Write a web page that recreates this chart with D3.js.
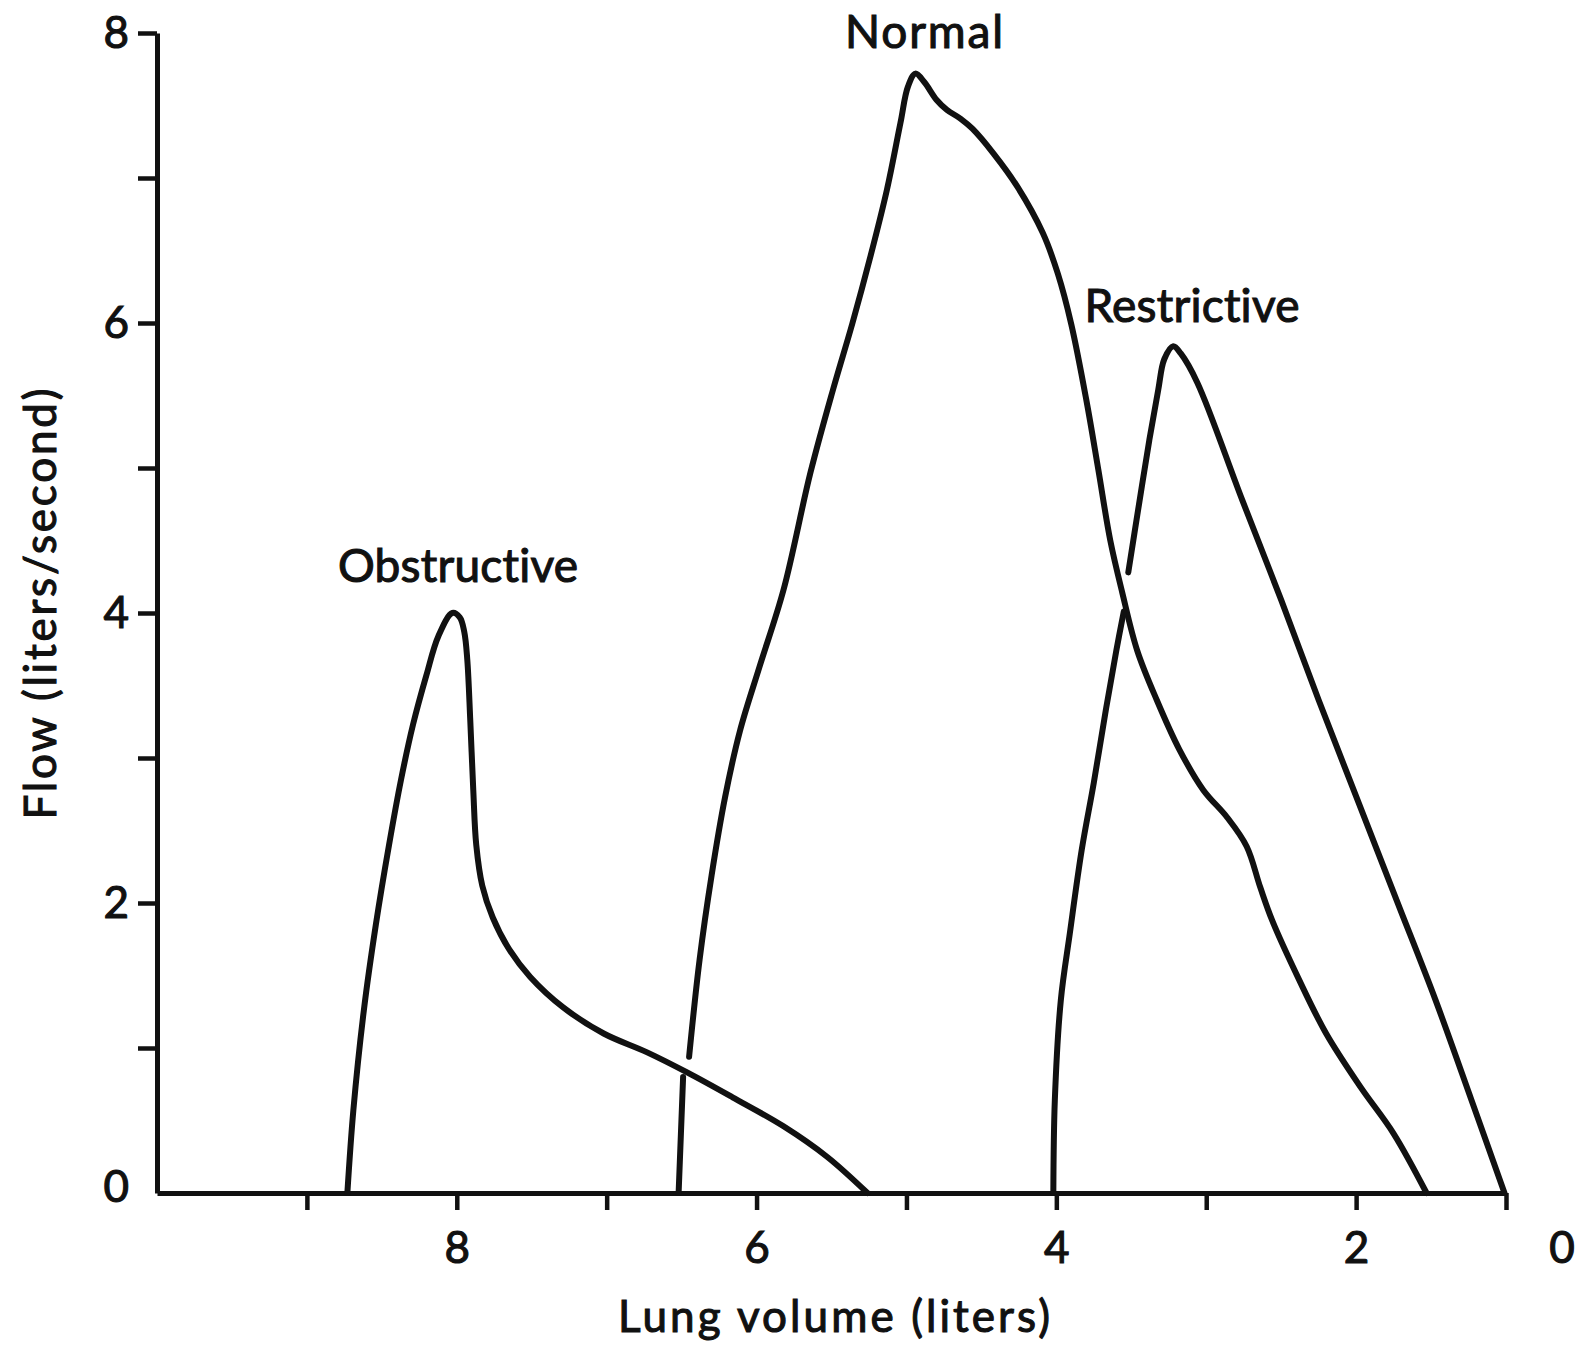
<!DOCTYPE html>
<html>
<head>
<meta charset="utf-8">
<script src="https://cdn.jsdelivr.net/npm/d3@7"></script>
<style>
  html, body { margin: 0; padding: 0; background: #ffffff; }
  svg { display: block; }
  text {
    font-family: Lato, "Open Sans", sans-serif;
    fill: #111;
    stroke: #111;
    stroke-width: 1.1px;
    font-variant-ligatures: none;
    font-feature-settings: "liga" 0, "clig" 0;
  }
</style>
</head>
<body>
<svg id="chart" width="1583" height="1350"></svg>
<script>
// Flow-volume loops (expiratory limb): [lung volume in liters, flow in liters/second].
// A null entry marks where the line is broken as it passes behind another curve.
const obstructive = [
  [8.73, 0], [8.69, 0.57], [8.62, 1.26], [8.54, 1.85], [8.452, 2.40], [8.372, 2.85],
  [8.292, 3.23], [8.203, 3.57], [8.123, 3.84], [8.03, 4.00], [7.98, 3.97], [7.95, 3.87],
  [7.93, 3.68], [7.91, 3.26], [7.89, 2.78], [7.87, 2.40], [7.83, 2.12], [7.76, 1.90],
  [7.65, 1.68], [7.51, 1.49], [7.29, 1.28], [7.02, 1.10], [6.73, 0.97], [6.46, 0.83],
  [6.16, 0.66], [5.82, 0.46], [5.53, 0.25], [5.26, 0]
];

const normal = [
  [6.52, 0], [6.49, 0.80],
  null,
  [6.45, 0.94], [6.38, 1.61], [6.30, 2.19], [6.21, 2.73], [6.11, 3.19], [5.98, 3.63],
  [5.82, 4.16], [5.64, 4.97], [5.49, 5.54], [5.36, 6.00], [5.24, 6.46],
  [5.13, 6.92], [5.04, 7.38], [4.99, 7.63], [4.94, 7.72], [4.88, 7.66], [4.80, 7.54],
  [4.73, 7.47], [4.64, 7.41], [4.56, 7.34], [4.42, 7.17], [4.26, 6.94], [4.09, 6.62],
  [3.99, 6.34], [3.90, 5.99], [3.80, 5.47], [3.72, 4.99], [3.64, 4.50], [3.56, 4.14],
  [3.46, 3.74], [3.33, 3.40], [3.18, 3.06], [3.02, 2.78], [2.86, 2.59], [2.73, 2.39],
  [2.64, 2.11], [2.56, 1.88], [2.38, 1.47], [2.20, 1.10], [1.97, 0.73], [1.75, 0.41],
  [1.53, 0]
];

const restrictive = [
  [4.02, 0], [4.01, 0.64], [3.97, 1.33], [3.91, 1.79], [3.83, 2.37], [3.75, 2.83],
  [3.67, 3.33], [3.60, 3.74], [3.55, 4.01],
  null,
  [3.52, 4.28], [3.45, 4.74], [3.38, 5.19], [3.32, 5.54], [3.28, 5.75], [3.22, 5.84],
  [3.17, 5.79], [3.06, 5.59], [2.76, 4.78], [2.50, 4.09], [2.25, 3.40], [1.99, 2.71],
  [1.73, 2.02], [1.47, 1.33], [1.23, 0.64], [1.01, 0]
];

const curveNames = ["Obstructive", "Normal", "Restrictive"];
const volumeTicks = [9, 8, 7, 6, 5, 4, 3, 2, 1];
const volumeTickLabels = ["", "8", "", "6", "", "4", "", "2", ""];
const volumeEndLabel = "0";
const flowTicks = [1, 2, 3, 4, 5, 6, 7, 8];
const flowTickLabels = ["", "2", "", "4", "", "6", "", "8"];
const xTitle = "Lung volume (liters)";
const yTitle = "Flow (liters/second)";

const svg = d3.select("#chart");
const ink = "#111";
const font = "Lato, sans-serif";

const x = d3.scaleLinear().domain([10, 1]).range([157, 1506]);
const y = d3.scaleLinear().domain([0, 8]).range([1193, 33]);

// X axis
const xAxis = svg.append("g")
  .attr("transform", `translate(0,${y(0)})`)
  .call(d3.axisBottom(x)
    .tickValues(volumeTicks)
    .tickFormat((d, i) => volumeTickLabels[i])
    .tickSize(17)
    .tickSizeOuter(0)
    .tickPadding(22));
xAxis.select(".domain").attr("stroke", ink).attr("stroke-width", 5);
xAxis.selectAll(".tick line").attr("stroke", ink).attr("stroke-width", 4.5);
xAxis.selectAll(".tick text")
  .attr("font-size", 44).attr("font-family", font).attr("fill", ink);
xAxis.append("text")
  .attr("x", x(1) + 56)
  .attr("y", 39)
  .attr("dy", "0.71em")
  .attr("text-anchor", "middle")
  .attr("font-size", 44).attr("font-family", font).attr("fill", ink)
  .text(volumeEndLabel);

// Y axis
const yAxis = svg.append("g")
  .attr("transform", `translate(${x(10)},0)`)
  .call(d3.axisLeft(y)
    .tickValues(flowTicks)
    .tickFormat((d, i) => flowTickLabels[i])
    .tickSize(19)
    .tickSizeOuter(0)
    .tickPadding(9));
yAxis.select(".domain").attr("stroke", ink).attr("stroke-width", 5);
yAxis.selectAll(".tick line").attr("stroke", ink).attr("stroke-width", 4.5);
yAxis.selectAll(".tick text")
  .attr("font-size", 44).attr("font-family", font).attr("fill", ink);
yAxis.append("text")
  .attr("x", -28)
  .attr("y", y(0))
  .attr("dy", "0.2em")
  .attr("text-anchor", "end")
  .attr("font-size", 44).attr("font-family", font).attr("fill", ink)
  .text("0");

// Axis titles
svg.append("text")
  .attr("x", 834).attr("y", 1332)
  .attr("text-anchor", "middle")
  .attr("font-size", 44)
  .attr("textLength", 432).attr("lengthAdjust", "spacing")
  .text(xTitle);

svg.append("text")
  .attr("transform", "translate(56,604) rotate(-90)")
  .attr("text-anchor", "middle")
  .attr("font-size", 44)
  .attr("textLength", 431).attr("lengthAdjust", "spacing")
  .text(yTitle);

// Curves
const line = d3.line()
  .defined(d => d !== null)
  .x(d => x(d[0]))
  .y(d => y(d[1]))
  .curve(d3.curveCatmullRom.alpha(0.5));

const series = [obstructive, normal, restrictive];
svg.append("g")
  .selectAll("path")
  .data(series)
  .join("path")
  .attr("d", line)
  .attr("fill", "none")
  .attr("stroke", ink)
  .attr("stroke-width", 6)
  .attr("stroke-linejoin", "round")
  .attr("stroke-linecap", "round");

// Curve names
const labelLayout = {
  Obstructive: { cx: 458, baseline: 582, width: 240 },
  Normal: { cx: 924, baseline: 48, width: 158 },
  Restrictive: { cx: 1192, baseline: 322, width: 215 }
};
svg.append("g")
  .selectAll("text")
  .data(curveNames)
  .join("text")
  .attr("x", d => labelLayout[d].cx)
  .attr("y", d => labelLayout[d].baseline)
  .attr("text-anchor", "middle")
  .attr("font-size", 46)
  .attr("textLength", d => labelLayout[d].width)
  .attr("lengthAdjust", "spacing")
  .text(d => d);
</script>
</body>
</html>
